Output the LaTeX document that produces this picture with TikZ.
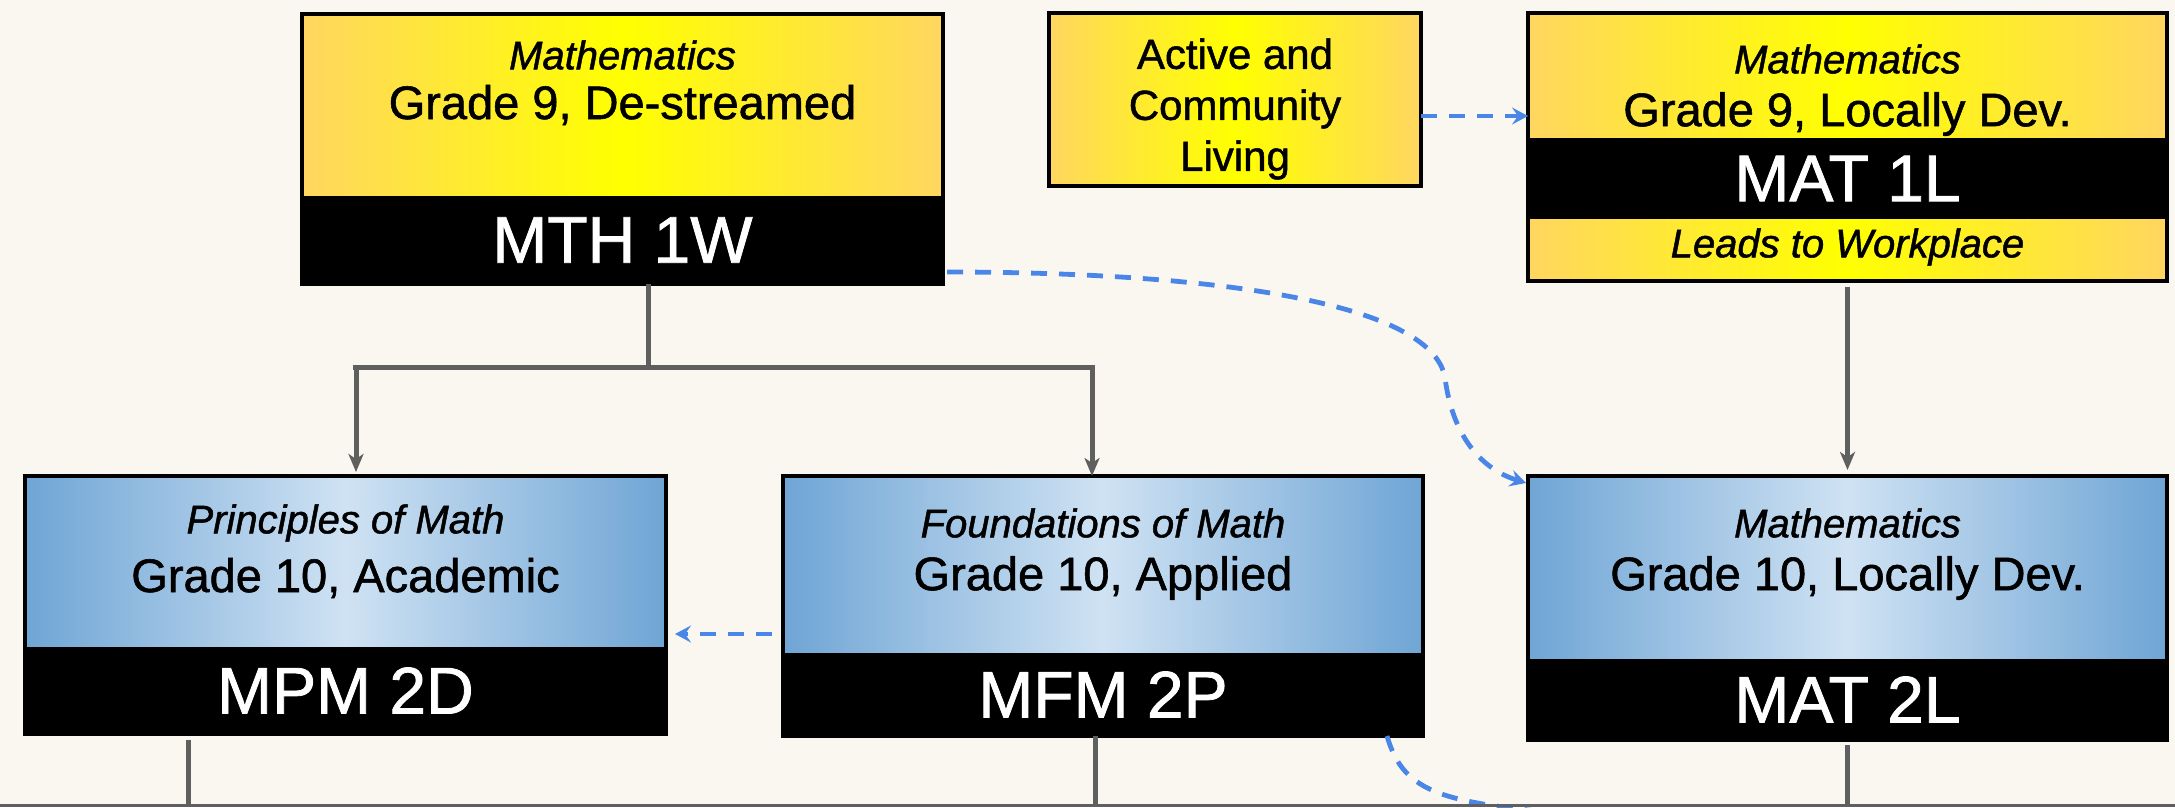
\documentclass[tikz,border=0pt]{standalone}
\usepackage{fontspec}
\setmainfont{Liberation Sans}[FakeBold=1.2]
\usetikzlibrary{arrows.meta,calc}
\definecolor{bg}{RGB}{250,247,240}
\definecolor{yedge}{RGB}{255,214,96}
\definecolor{ycen}{RGB}{255,255,0}
\definecolor{bedge}{RGB}{111,165,213}
\definecolor{bcen}{RGB}{207,226,243}
\definecolor{lineg}{RGB}{95,95,95}
\definecolor{dblue}{RGB}{74,134,232}
\tikzset{
  box/.style={draw=black, line width=3.5pt, inner sep=0pt, outer sep=0pt, anchor=north west},
  yfill/.style={left color=yedge, right color=yedge, middle color=ycen},
  bfill/.style={left color=bedge, right color=bedge, middle color=bcen},
  band/.style={fill=black, text=white, inner sep=0pt, outer sep=0pt,
    font=\fontsize{66}{70}\selectfont},
  sub/.style={font=\fontsize{40}{44}\selectfont\itshape, inner sep=0pt},
  grade/.style={font=\fontsize{47}{52}\selectfont, inner sep=0pt},
  tline/.style={draw=lineg, line width=5pt},
  conn/.style={tline, -{Stealth[length=18pt,width=15pt,inset=5pt]}},
  dconn/.style={draw=dblue, line width=4.8pt, dash pattern=on 16pt off 12pt,
    -{Stealth[length=16pt,width=17pt,inset=6pt]}},
  dline/.style={draw=dblue, line width=4.8pt, dash pattern=on 16pt off 12pt}
}
\begin{document}
\begin{tikzpicture}[x=1pt,y=-1pt]
\useasboundingbox (0,0) rectangle (2175,807);
\fill[bg] (0,0) rectangle (2175,807);
\clip (0,0) rectangle (2175,807);

% ---- Row 1 ----
\node[box, yfill, minimum width=641, minimum height=270] (mth) at (302,14) {};
\node[band, minimum width=641, minimum height=88, anchor=south west] (mthc) at (mth.south west) {MTH 1W};
\node[sub] (mths) at (622.5,55) {Mathematics};
\node[grade] (mthg) at (622.5,105) {Grade 9, De-streamed};
\draw[draw=black, line width=3.5pt] (mth.north west) rectangle (mth.south east);

\node[box, yfill, minimum width=372, minimum height=173] (act) at (1049,13) {};
\node[align=center, inner sep=0pt, font=\fontsize{42}{51}\selectfont] (actt) at (1235,109) {Active and\\Community\\Living};

\node[box, yfill, minimum width=639, minimum height=268] (mat1) at (1528,13) {};
\node[band, minimum width=639, minimum height=81, anchor=north west] (mat1c) at (1528,138) {MAT 1L};
\node[sub] (mat1s) at (1847.5,59) {Mathematics};
\node[grade] (mat1g) at (1847.5,114) {Grade 9, Locally Dev.};
\node[sub] (mat1w) at (1847.5,247) {Leads to Workplace};
\draw[draw=black, line width=3.5pt] (mat1.north west) rectangle (mat1.south east);

% ---- Row 2 ----
\node[box, bfill, minimum width=641, minimum height=258] (mpm) at (25,476) {};
\node[band, minimum width=641, minimum height=87, anchor=south west] (mpmc) at (mpm.south west) {MPM 2D};
\node[sub] (mpms) at (345.5,523) {Principles of Math};
\node[grade] (mpmg) at (345.5,578) {Grade 10, Academic};
\draw[draw=black, line width=3.5pt] (mpm.north west) rectangle (mpm.south east);

\node[box, bfill, minimum width=640, minimum height=260] (mfm) at (783,476) {};
\node[band, minimum width=640, minimum height=83, anchor=south west] (mfmc) at (mfm.south west) {MFM 2P};
\node[sub] (mfms) at (1103,523) {Foundations of Math};
\node[grade] (mfmg) at (1103,578) {Grade 10, Applied};
\draw[draw=black, line width=3.5pt] (mfm.north west) rectangle (mfm.south east);

\node[box, bfill, minimum width=639, minimum height=264] (mat2) at (1528,476) {};
\node[band, minimum width=639, minimum height=81, anchor=south west] (mat2c) at (mat2.south west) {MAT 2L};
\node[sub] (mat2s) at (1847.5,523) {Mathematics};
\node[grade] (mat2g) at (1847.5,578) {Grade 10, Locally Dev.};
\draw[draw=black, line width=3.5pt] (mat2.north west) rectangle (mat2.south east);

% ---- Tree connectors ----
\coordinate (jn) at (648,367);
\coordinate (jl) at (356,367);
\coordinate (jr) at (1092,367);
\draw[tline] (mth.south -| jn) -- (jn);
\draw[tline] ([xshift=-3pt]jl) -- ([xshift=3pt]jr);
\draw[conn, shorten >=4pt] (jl) -- (jl |- mpm.north);
\draw[conn, shorten >=0pt] (jr) -- (jr |- mfm.north);
\draw[conn, shorten <=6pt, shorten >=6pt] (mat1.south) -- (mat2.north);

% ---- Dashed connectors ----
\coordinate (ya) at (0,116);
\draw[dconn] (act.east |- ya) -- (mat1.west |- ya);
\coordinate (yb) at (0,634);
\draw[dconn, shorten <=11pt, shorten >=9pt] (mfm.west |- yb) -- (mpm.east |- yb);
\coordinate (cm) at (1445,378);
\draw[dconn] ([xshift=4pt]mth.east |- 0,272) .. controls (1200,272) and (1432,300) .. (cm)
  .. controls (1452,432) and (1478,468) .. ([xshift=-2pt,yshift=-7pt]mat2.north west);
\coordinate (off) at (1580,815);
\draw[dline] ([xshift=-36pt]mfm.south east) .. controls (1404,795) and (1445,803) .. (off);

% ---- Lines continuing below ----
\draw[tline] (188,740) -- (188,807);
\draw[tline] (1095,736) -- (1095,807);
\draw[tline] (1847,745) -- (1847,807);
\draw[draw=lineg, line width=3pt] (0,805.5) -- (2175,805.5);
\end{tikzpicture}
\end{document}
